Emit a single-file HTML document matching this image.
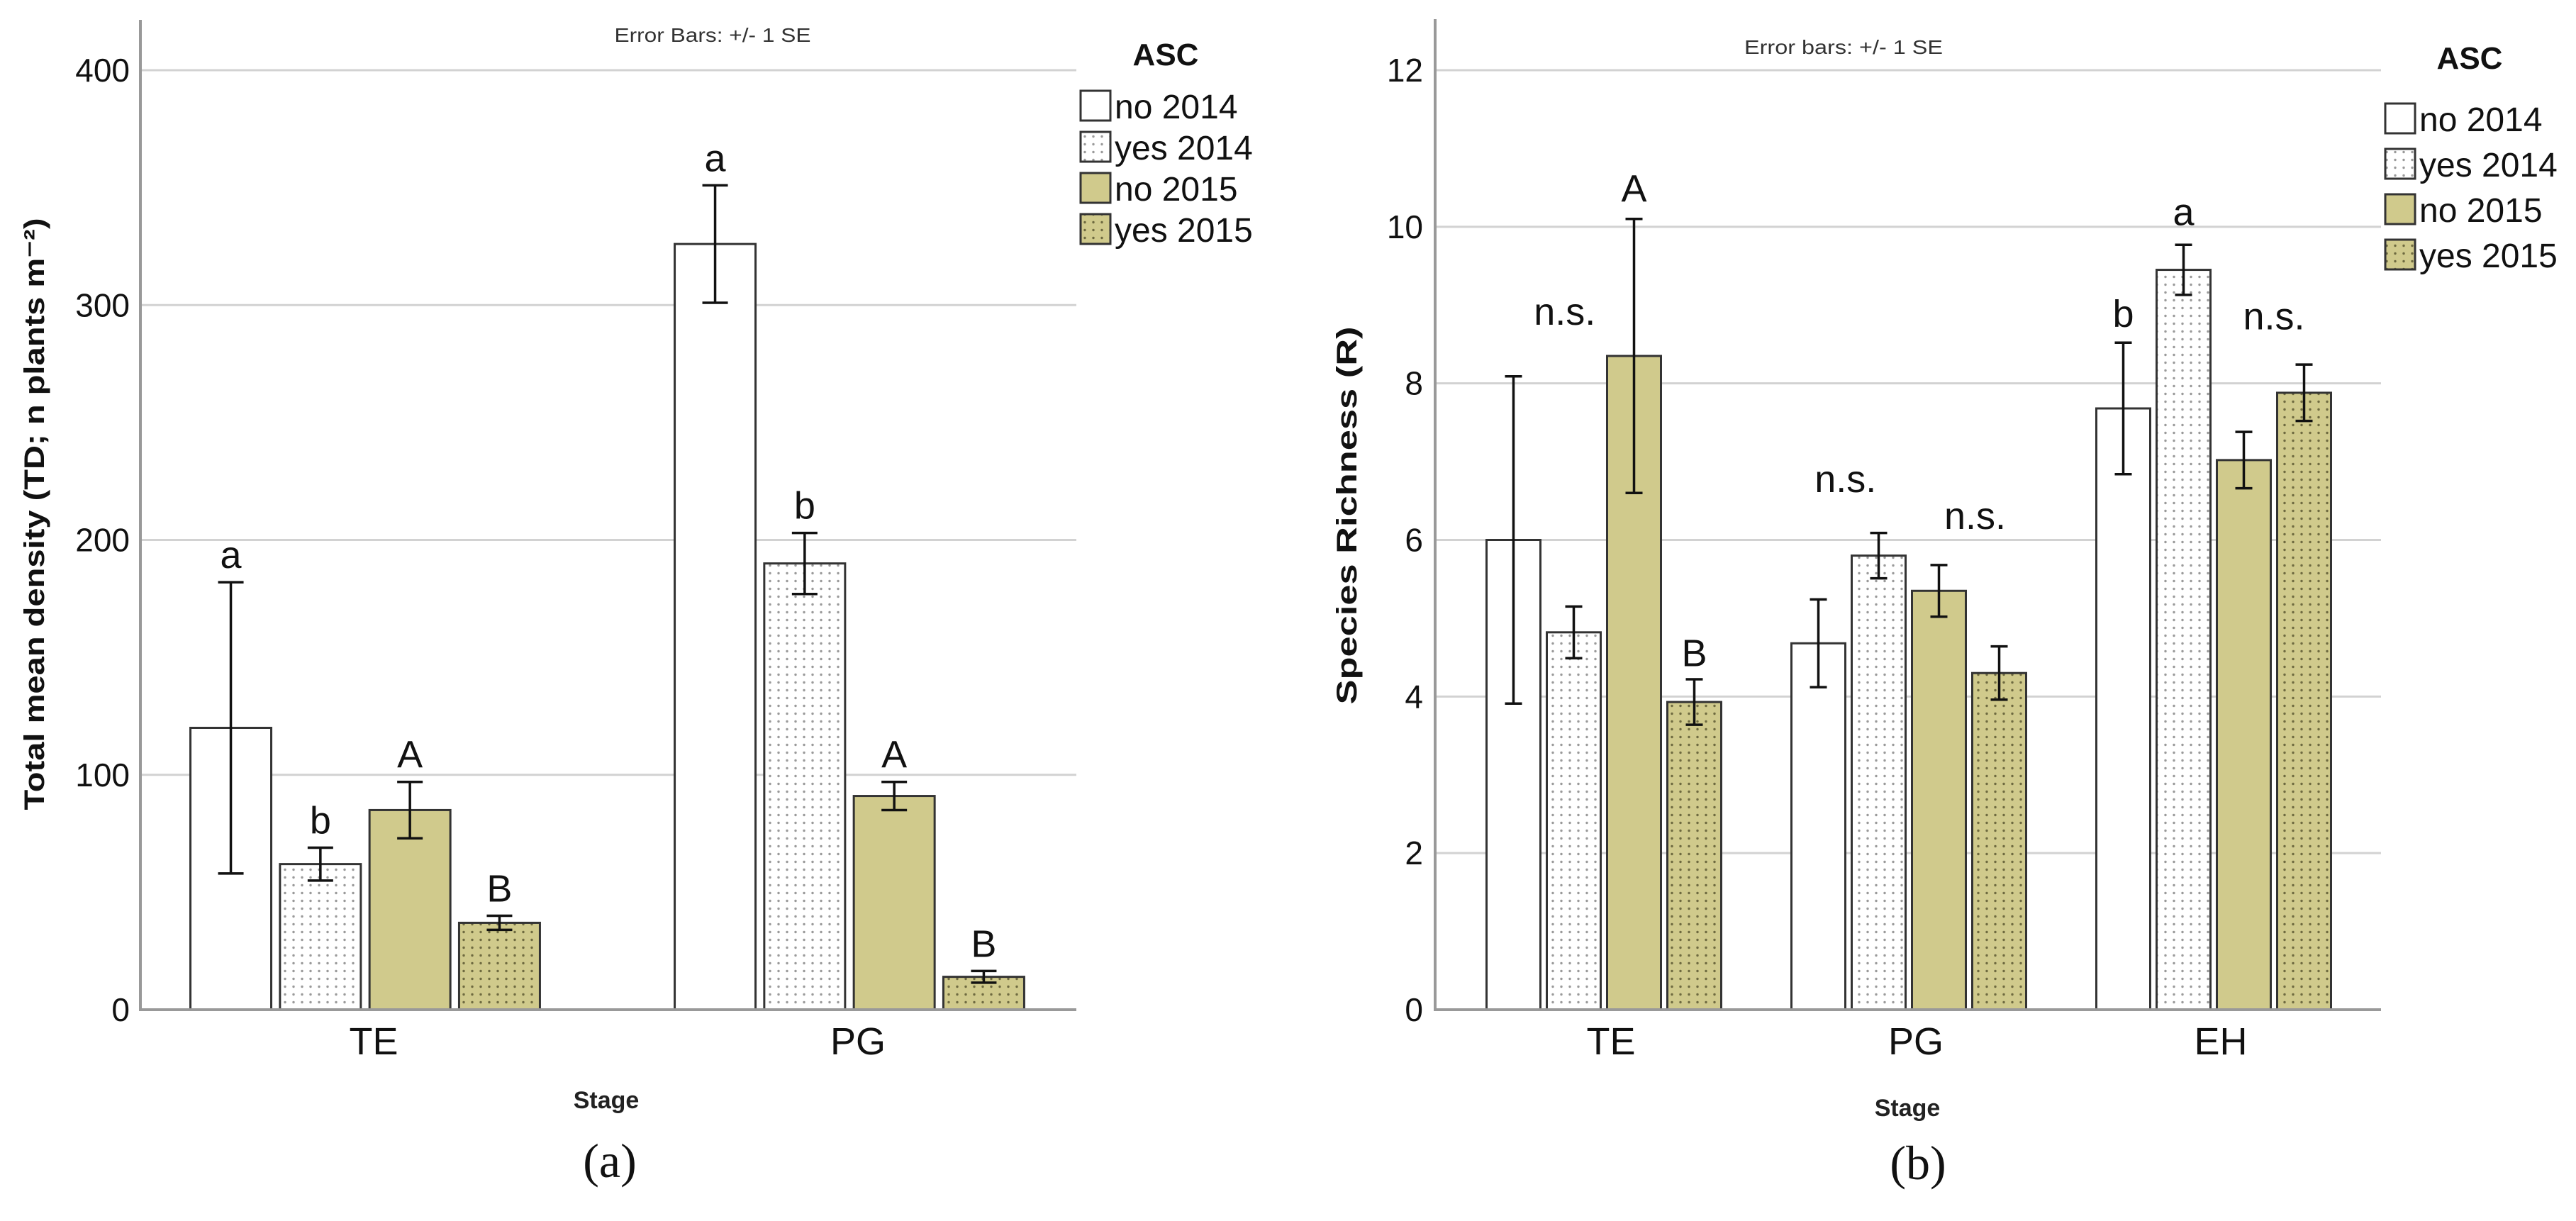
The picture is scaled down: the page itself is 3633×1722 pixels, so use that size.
<!DOCTYPE html>
<html><head><meta charset="utf-8">
<style>
html,body{margin:0;padding:0;background:#fff;}
svg{display:block;font-family:"Liberation Sans",sans-serif;}
</style></head>
<body>
<svg id="fig" width="3633" height="1722" viewBox="0 0 3633 1722" xmlns="http://www.w3.org/2000/svg">
<defs>
<pattern id="dotsW" width="12" height="11" patternUnits="userSpaceOnUse">
<rect width="12" height="11" fill="#ffffff"/><circle cx="6" cy="5.5" r="1.7" fill="#9a9a9a"/>
</pattern>
<pattern id="dotsO" width="12" height="11" patternUnits="userSpaceOnUse">
<rect width="12" height="11" fill="#d0ca8c"/><circle cx="6" cy="5.5" r="1.7" fill="#6e6a40"/>
</pattern>
</defs>
</svg>
<script>
// ---------- data: panel (a) ----------
const catsA = ["TE", "PG"];
const seriesNames = ["no 2014", "yes 2014", "no 2015", "yes 2015"];
const meanA_no2014 = [120, 326];
const meanA_yes2014 = [62, 190];
const meanA_no2015 = [85, 91];
const meanA_yes2015 = [37, 14];
const seA_no2014 = [62, 25];
const seA_yes2014 = [7, 13];
const seA_no2015 = [12, 6];
const seA_yes2015 = [3, 2.5];
const lettersA_TE = ["a", "b", "A", "B"];
const lettersA_PG = ["a", "b", "A", "B"];
const ticksA = [0, 100, 200, 300, 400];

// ---------- data: panel (b) ----------
const catsB = ["TE", "PG", "EH"];
const meanB_no2014 = [6.0, 4.68, 7.68];
const meanB_yes2014 = [4.82, 5.8, 9.45];
const meanB_no2015 = [8.35, 5.35, 7.02];
const meanB_yes2015 = [3.93, 4.3, 7.88];
const seB_no2014 = [2.09, 0.56, 0.84];
const seB_yes2014 = [0.33, 0.29, 0.32];
const seB_no2015 = [1.75, 0.33, 0.36];
const seB_yes2015 = [0.29, 0.34, 0.36];
const annB_text = ["n.s.", "A", "B", "n.s.", "n.s.", "b", "a", "n.s."];
const annB_cat = [0, 0, 0, 1, 1, 2, 2, 2];
const annB_slot = [0.85, 2, 3, 0.45, 2.6, 0, 1, 2.5];
const annB_value = [8.75, 10.32, 4.39, 6.61, 6.14, 8.72, 10.02, 8.69];
const ticksB = [0, 2, 4, 6, 8, 10, 12];

const NS = "http://www.w3.org/2000/svg";
const svg = document.getElementById("fig");
function mk(tag, attrs, parent, txt) {
  const e = document.createElementNS(NS, tag);
  for (const k in attrs) e.setAttribute(k, attrs[k]);
  if (txt !== undefined) e.textContent = txt;
  (parent || svg).appendChild(e);
  return e;
}
const fills = ["#ffffff", "url(#dotsW)", "#d0ca8c", "url(#dotsO)"];

function panel(cfg) {
  const g = mk("g", {});
  
  
  const y = v => cfg.y0 - (v - cfg.vmin) / (cfg.vmax - cfg.vmin) * (cfg.y0 - cfg.yTop);
  // gridlines + ticks
  cfg.ticks.forEach(t => {
    if (t !== 0) {
      const gl = mk("line", {x1: cfg.xL, x2: cfg.xR, y1: y(t), y2: y(t), stroke: "#d2d2d2", "stroke-width": 3}, g);
      
      
    }
    const tl = mk("text", {x: cfg.tickX, y: y(t) + 16, "text-anchor": "end", "font-size": 46, fill: "#111"}, g, String(t));
    
    
  });
  // bars
  const means = cfg.means, ses = cfg.ses;
  cfg.cats.forEach((c, ci) => {
    const cx = cfg.c0 + ci * cfg.cstep;
    for (let s = 0; s < 4; s++) {
      const bx = cx + (s - 1.5) * cfg.step - cfg.bw / 2;
      const v = means[s][ci];
      const r = mk("rect", {x: bx, y: y(v), width: cfg.bw, height: cfg.y0 - y(v), fill: fills[s], stroke: "#333", "stroke-width": 3}, g);
      
      
      const mx = bx + cfg.bw / 2, lo = y(v - ses[s][ci]), hi = y(v + ses[s][ci]);
      const eb = mk("path", {d: `M${mx},${lo}V${hi}M${mx - cfg.cap},${lo}H${mx + cfg.cap}M${mx - cfg.cap},${hi}H${mx + cfg.cap}`, stroke: "#111", "stroke-width": 3.5, fill: "none"}, g);
      
      
      if (cfg.letters) {
        const lt = mk("text", {x: mx, y: hi - 20, "text-anchor": "middle", "font-size": 54, fill: "#111"}, g, cfg.letters[ci][s]);
        
        
      }
    }
    const cl = mk("text", {x: cx + cfg.labDx, y: 1487, "text-anchor": "middle", "font-size": 54, fill: "#111"}, g, c);
    
    
  });
  if (cfg.ann) {
    cfg.ann.text.forEach((t, i) => {
      const cx = cfg.c0 + cfg.ann.cat[i] * cfg.cstep + (cfg.ann.slot[i] - 1.5) * cfg.step;
      const a = mk("text", {x: cx, y: y(cfg.ann.value[i]), "text-anchor": "middle", "font-size": 54, fill: "#111"}, g, t);
      
      
    });
  }
  // axes
  const ax = mk("line", {x1: cfg.xL, x2: cfg.xL, y1: cfg.top, y2: cfg.y0 + 2, stroke: "#999", "stroke-width": 4}, g);
  
  
  const bx = mk("line", {x1: cfg.xL, x2: cfg.xR, y1: cfg.y0, y2: cfg.y0, stroke: "#999", "stroke-width": 4}, g);
  
  
  // titles
  const yt = mk("text", {x: 0, y: 0, transform: `translate(${cfg.ytX},${cfg.ytY}) rotate(-90)`, "text-anchor": "middle", "font-size": 40, "font-weight": "bold", fill: "#111", textLength: cfg.ytLen, lengthAdjust: "spacingAndGlyphs"}, g, cfg.ytitle);
  
  
  const eb = mk("text", {x: cfg.ebX, y: cfg.ebY, "text-anchor": "middle", "font-size": 28, fill: "#333", textLength: cfg.ebLen, lengthAdjust: "spacingAndGlyphs"}, g, cfg.ebText);
  
  
  const st = mk("text", {x: cfg.stX, y: cfg.stY, "text-anchor": "middle", "font-size": 34, "font-weight": "bold", fill: "#222"}, g, "Stage");
  
  
  const pl = mk("text", {x: cfg.plX, y: cfg.plY, "text-anchor": "middle", "font-size": 68, "font-family": "Liberation Serif, serif", fill: "#111"}, g, cfg.plText);
  
  
  // legend
  const lg = mk("g", {}, g);
  
  
  const at = mk("text", {x: cfg.lgTitleX, y: cfg.lgTitleY, "text-anchor": "middle", "font-size": 44, "font-weight": "bold", fill: "#111"}, lg, "ASC");
  
  
  seriesNames.forEach((n, i) => {
    const cy = cfg.lgY0 + i * cfg.lgPitch;
    const sw = mk("rect", {x: cfg.lgX, y: cy - 21, width: 42, height: 42, fill: fills[i], stroke: "#333", "stroke-width": 3}, lg);
    
    
    const tx = mk("text", {x: cfg.lgX + 48, y: cy + 18, "font-size": 48, fill: "#111"}, lg, n);
    
    
  });
}

panel({
  name: "panel-a-density-chart", cats: catsA,
  means: [meanA_no2014, meanA_yes2014, meanA_no2015, meanA_yes2015],
  ses: [seA_no2014, seA_yes2014, seA_no2015, seA_yes2015],
  letters: [lettersA_TE, lettersA_PG],
  ticks: ticksA, vmin: 0, vmax: 400, y0: 1424, yTop: 99, top: 28,
  xL: 198, xR: 1518, tickX: 183, c0: 515, cstep: 683, step: 126.3, bw: 114, cap: 18, labDx: 12,
  ytitle: "Total mean density (TD; n plants m\u207B\u00B2)", ytX: 62, ytY: 725, ytLen: 835,
  ebText: "Error Bars: +/- 1 SE", ebX: 1005, ebY: 59, ebLen: 277,
  stX: 855, stY: 1563, plX: 860, plY: 1660, plText: "(a)",
  lgTitleX: 1644, lgTitleY: 92, lgX: 1524, lgY0: 149, lgPitch: 58
});

panel({
  name: "panel-b-richness-chart", cats: catsB,
  means: [meanB_no2014, meanB_yes2014, meanB_no2015, meanB_yes2015],
  ses: [seB_no2014, seB_yes2014, seB_no2015, seB_yes2015],
  letters: null,
  ann: {text: annB_text, cat: annB_cat, slot: annB_slot, value: annB_value},
  ticks: ticksB, vmin: 0, vmax: 12, y0: 1424, yTop: 99, top: 27,
  xL: 2024, xR: 3358, tickX: 2007, c0: 2262, cstep: 430, step: 85, bw: 76, cap: 12, labDx: 10,
  ytitle: "Species Richness (R)", ytX: 1913, ytY: 727, ytLen: 533,
  ebText: "Error bars: +/- 1 SE", ebX: 2600, ebY: 76, ebLen: 280,
  stX: 2690, stY: 1574, plX: 2705, plY: 1663, plText: "(b)",
  lgTitleX: 3483, lgTitleY: 97, lgX: 3364, lgY0: 167, lgPitch: 64
});
</script>
</body></html>
